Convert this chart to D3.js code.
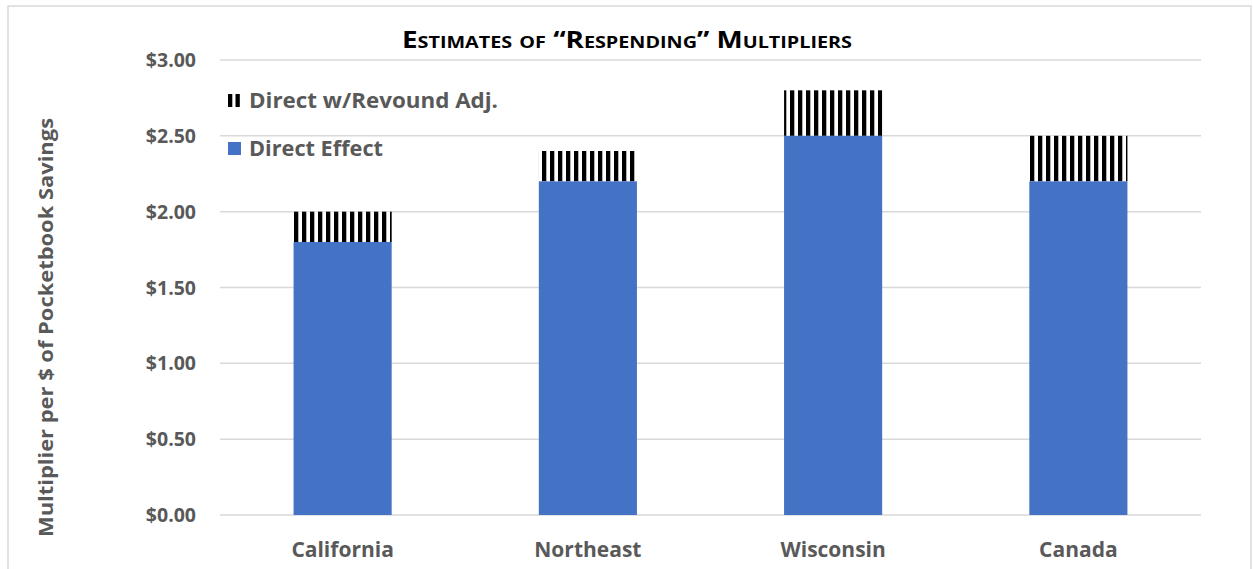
<!DOCTYPE html>
<html lang="en">
<head>
    <meta charset="utf-8">
    <title>Respending Multipliers</title>
    <script type="text/javascript" src="https://d3js.org/d3.v7.min.js"></script>
    <style type="text/css">
        body { margin: 0; background: #fff; }
        text { font-family: "Open Sans", Lato, sans-serif; font-weight: bold; }
    </style>
</head>
<body>
<svg width="1253" height="569"></svg>
<script type="text/javascript">

    // data
    const regions = ["California", "Northeast", "Wisconsin", "Canada"];
    const directEffect = [1.8, 2.2, 2.5, 2.2];
    const withRebound = [2.0, 2.4, 2.8, 2.5];
    const yTicks = [0, 0.5, 1, 1.5, 2, 2.5, 3];
    const legendLabels = ["Direct w/Revound Adj.", "Direct Effect"];

    const svg = d3.select("svg");
    const blue = "#4472c4";
    const grey = "#595959";

    // chart frame
    svg.append("path")
        .attr("d", "M8,569 V6 H1251 V569")
        .attr("fill", "none")
        .attr("stroke", "#d9d9d9")
        .attr("stroke-width", 1.5);

    // stripes for the rebound part
    const pat = svg.append("defs").append("pattern")
        .attr("id", "stripes")
        .attr("patternUnits", "userSpaceOnUse")
        .attr("x", 294).attr("y", 0)
        .attr("width", 8).attr("height", 8);
    pat.append("rect").attr("width", 8).attr("height", 8).attr("fill", "#fff");
    pat.append("rect").attr("width", 4.3).attr("height", 8).attr("fill", "#000");

    const x = d3.scaleBand().domain(regions).range([220, 1201]);
    const y = d3.scaleLinear().domain([0, 3]).range([515, 60]);
    const barW = x.bandwidth() * 0.4;

    // gridlines
    svg.append("g").selectAll("line")
        .data(yTicks)
        .join("line")
        .attr("x1", 220).attr("x2", 1201)
        .attr("y1", d => y(d)).attr("y2", d => y(d))
        .attr("stroke", "#d9d9d9")
        .attr("stroke-width", 1.5);

    // y tick labels
    svg.append("g").selectAll("text")
        .data(yTicks)
        .join("text")
        .attr("x", 196)
        .attr("y", d => y(d) + 7)
        .attr("text-anchor", "end")
        .attr("font-size", 19.5)
        .attr("fill", grey)
        .text(d => d3.format("$.2f")(d));

    const rows = regions.map((r, i) => ({ r: r, d: directEffect[i], t: withRebound[i] }));

    // rebound part (stacked on top)
    svg.append("g").selectAll("rect")
        .data(rows)
        .join("rect")
        .attr("x", d => x(d.r) + (x.bandwidth() - barW) / 2)
        .attr("width", barW)
        .attr("y", d => y(d.t))
        .attr("height", d => y(d.d) - y(d.t))
        .attr("fill", "url(#stripes)");

    // direct effect
    svg.append("g").selectAll("rect")
        .data(rows)
        .join("rect")
        .attr("x", d => x(d.r) + (x.bandwidth() - barW) / 2)
        .attr("width", barW)
        .attr("y", d => y(d.d))
        .attr("height", d => y(0) - y(d.d))
        .attr("fill", blue);

    // category labels
    svg.append("g").selectAll("text")
        .data(regions)
        .join("text")
        .attr("x", d => x(d) + x.bandwidth() / 2)
        .attr("y", 557)
        .attr("text-anchor", "middle")
        .attr("font-size", 21)
        .attr("fill", grey)
        .text(d => d);

    // y axis title
    svg.append("text")
        .attr("transform", "translate(53,327.5) rotate(-90)")
        .attr("text-anchor", "middle")
        .attr("font-size", 20)
        .attr("textLength", 419)
        .attr("lengthAdjust", "spacingAndGlyphs")
        .attr("fill", grey)
        .text("Multiplier per $ of Pocketbook Savings");

    // title
    svg.append("text")
        .attr("x", 627)
        .attr("y", 48)
        .attr("text-anchor", "middle")
        .attr("font-size", 22.5)
        .attr("textLength", 450)
        .attr("lengthAdjust", "spacingAndGlyphs")
        .style("font-variant", "small-caps")
        .attr("fill", "#000")
        .text("Estimates of \u201cRespending\u201d Multipliers");

    // legend
    const leg = svg.append("g");
    leg.append("rect").attr("x", 228).attr("y", 94).attr("width", 4.3).attr("height", 13).attr("fill", "#000");
    leg.append("rect").attr("x", 235.5).attr("y", 94).attr("width", 4.3).attr("height", 13).attr("fill", "#000");
    leg.append("rect").attr("x", 228).attr("y", 142).attr("width", 13).attr("height", 13).attr("fill", blue);
    leg.selectAll("text")
        .data(legendLabels)
        .join("text")
        .attr("x", 249)
        .attr("y", (d, i) => 108 + i * 48)
        .attr("font-size", 22)
        .attr("textLength", (d, i) => i === 0 ? 249 : 134)
        .attr("lengthAdjust", "spacingAndGlyphs")
        .attr("fill", grey)
        .text(d => d);

</script>
</body>
</html>
